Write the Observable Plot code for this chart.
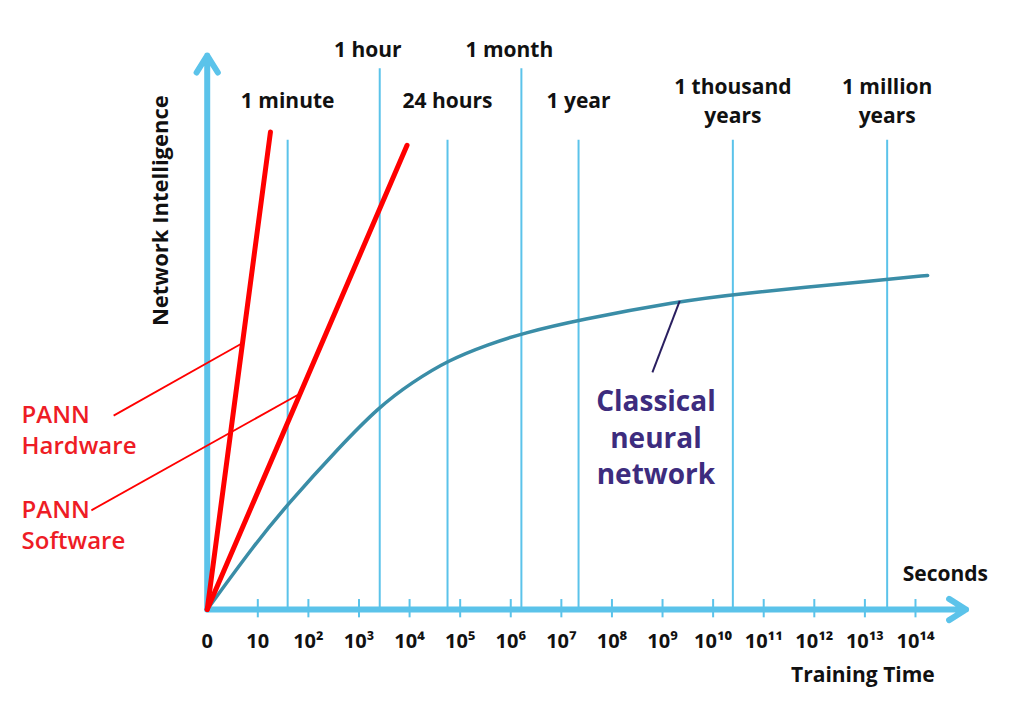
<!DOCTYPE html>
<html><head><meta charset="utf-8">
<script src="https://cdn.jsdelivr.net/npm/d3@7"></script>
<script src="https://cdn.jsdelivr.net/npm/@observablehq/plot@0.6"></script>
<style>html,body{margin:0;background:#fff;} #chart svg{display:block}</style>
</head><body><div id="chart"></div>
<script>
// ---- data (x = decades of training time in seconds, y = network intelligence, arbitrary units) ----
const tickDecades = [0,1,2,3,4,5,6,7,8,9,10,11,12,13,14];
const tickLabels = ["0","10","10²","10³","10⁴","10⁵","10⁶","10⁷","10⁸","10⁹","10¹⁰","10¹¹","10¹²","10¹³","10¹⁴"];

const markerLabels = ["1 minute","1 hour","24 hours","1 month","1 year","1 thousand\nyears","1 million\nyears"];
const markerDecades = [1.59, 3.41, 4.75, 6.21, 7.34, 10.39, 13.44];
const markerUpperRow = [false, true, false, true, false, false, false];

const classicalDecades = [0, 0.95, 1.59, 2.60, 3.41, 4.05, 4.76, 5.57, 6.21, 7.35, 9.32, 10.40, 13.45, 14.24];
const classicalIntelligence = [0, 11.9, 19.0, 29.2, 36.7, 41.0, 45.0, 47.9, 49.8, 52.3, 55.6, 56.9, 59.6, 60.3];

const hardwareDecades = [0, 1.25];
const hardwareIntelligence = [0, 86.2];
const softwareDecades = [0, 3.95];
const softwareIntelligence = [0, 83.8];

// ---- build tables ----
const ticks = tickDecades.map((d, i) => ({decade: d, label: tickLabels[i]}));
const markers = markerDecades.map((d, i) => ({decade: d, label: markerLabels[i], upper: markerUpperRow[i]}));
const classical = classicalDecades.map((d, i) => ({decade: d, v: classicalIntelligence[i]}));
const hardware = hardwareDecades.map((d, i) => ({decade: d, v: hardwareIntelligence[i]}));
const software = softwareDecades.map((d, i) => ({decade: d, v: softwareIntelligence[i]}));

const BLUE = "#5BC3EA", TEAL = "#3A8DA7", RED = "#FF0000", RED_TEXT = "#EE1C25", PURPLE = "#3D2C7E", NAVY = "#2A1F60";
const FONT = "'Open Sans', 'Noto Sans', sans-serif";

// annotation layout (in scale units)
const axisEnd = {x: 15, y: 100};
const lowTop = 84.7, highTop = 97.6;
const lowLabelY = 92.1, highLabelY = 100.9;

const chart = Plot.plot({
  width: 1023, height: 713,
  marginTop: 0, marginBottom: 0, marginLeft: 0, marginRight: 0,
  x: {domain: [-4.086, 16.135], axis: null},
  y: {domain: [-18.77, 109.93], axis: null},
  style: {fontFamily: FONT, background: "#fff", overflow: "visible"},
  marks: [
    // time reference lines
    Plot.ruleX(markers, {x: "decade", y1: 0, y2: d => d.upper ? highTop : lowTop, stroke: BLUE, strokeWidth: 2}),
    // tick marks
    Plot.ruleX(ticks.filter(t => t.decade > 0), {x: "decade", y1: -1.5, y2: 1.8, stroke: BLUE, strokeWidth: 2}),
    // axes arrows
    Plot.arrow([0], {x1: 0, y1: 0, x2: axisEnd.x, y2: 0, stroke: BLUE, strokeWidth: 6, headLength: 5, headAngle: 64}),
    Plot.arrow([0], {x1: 0, y1: 0, x2: 0, y2: axisEnd.y, stroke: BLUE, strokeWidth: 6, headLength: 5, headAngle: 64}),
    // classical curve
    Plot.line(classical, {x: "decade", y: "v", stroke: TEAL, strokeWidth: 3.5, curve: "basis"}),
    // PANN lines
    Plot.line(hardware, {x: "decade", y: "v", stroke: RED, strokeWidth: 5, strokeLinecap: "round"}),
    Plot.line(software, {x: "decade", y: "v", stroke: RED, strokeWidth: 5, strokeLinecap: "round"}),
    // leader lines
    Plot.link([0], {x1: -1.85, y1: 35.0, x2: 0.70, y2: 48.1, stroke: RED, strokeWidth: 1.8}),
    Plot.link([0], {x1: -2.29, y1: 17.9, x2: 1.84, y2: 39.0, stroke: RED, strokeWidth: 1.8}),
    Plot.link([0], {x1: 8.80, y1: 42.8, x2: 9.34, y2: 55.7, stroke: NAVY, strokeWidth: 2}),
    // tick labels
    Plot.text(ticks, {x: "decade", y: -5.8, text: "label", fontSize: 20, fontWeight: 700, fill: "#111"}),
    // marker labels
    Plot.text(markers.filter(d => !d.upper), {x: "decade", y: lowLabelY, text: "label",
      fontSize: 21, fontWeight: 700, fill: "#111", lineHeight: 1.36}),
    Plot.text(markers.filter(d => d.upper), {x: "decade", y: highLabelY, dx: -12, text: "label",
      fontSize: 21, fontWeight: 700, fill: "#111"}),
    // axis titles
    Plot.text(["Seconds"], {x: 14.59, y: 6.3, text: d => d, fontSize: 21, fontWeight: 700, fill: "#111"}),
    Plot.text(["Training Time"], {x: 12.96, y: -11.9, text: d => d, fontSize: 21, fontWeight: 700, fill: "#111"}),
    Plot.text(["Network Intelligence"], {x: -0.92, y: 72, text: d => d, rotate: -90, fontSize: 22, fontWeight: 700, fill: "#111"}),
    // series labels
    Plot.text(["PANN\nHardware"], {x: -3.67, y: 32.6, text: d => d, textAnchor: "start", fontSize: 24, fontWeight: 600, fill: RED_TEXT, lineHeight: 1.27}),
    Plot.text(["PANN\nSoftware"], {x: -3.67, y: 15.5, text: d => d, textAnchor: "start", fontSize: 24, fontWeight: 600, fill: RED_TEXT, lineHeight: 1.27}),
    Plot.text(["Classical\nneural\nnetwork"], {x: 8.87, y: 31.3, text: d => d, fontSize: 28, fontWeight: 700, fill: PURPLE, lineHeight: 1.3})
  ]
});
document.getElementById("chart").append(chart);
</script></body></html>
